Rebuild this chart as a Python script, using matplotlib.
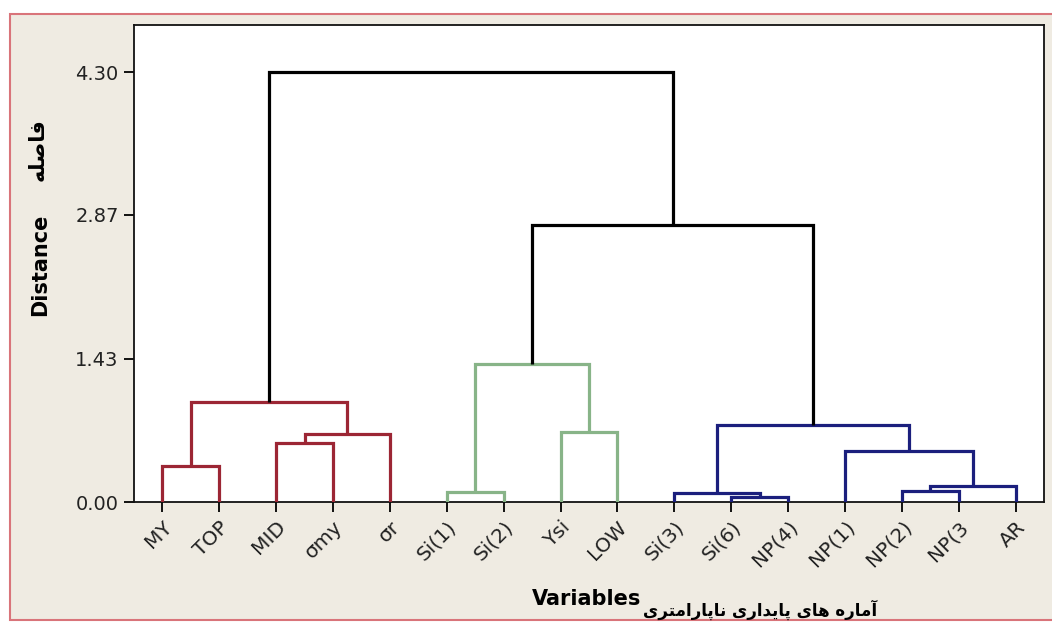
import matplotlib
matplotlib.use("Agg")
import matplotlib.pyplot as plt
from matplotlib.patches import Rectangle

# Leaves, in the order they appear along the axis
leaves = ["MY", "TOP", "MID", "σmy", "σr", "Si(1)", "Si(2)", "Ysi", "LOW",
          "Si(3)", "Si(6)", "NP(4)", "NP(1)", "NP(2)", "NP(3", "AR"]

# Merges: (left node, right node, distance). Leaves are nodes 0..15,
# each merge creates the next node id starting at 16.
merge_a = [10, 9, 5, 13, 19, 0, 12, 2, 23, 7, 17, 21, 18, 28, 27]
merge_b = [11, 16, 6, 14, 15, 1, 20, 3, 4, 8, 22, 24, 25, 26, 29]
merge_h = [0.05, 0.09, 0.10, 0.11, 0.16, 0.36, 0.51, 0.59, 0.68, 0.70,
           0.77, 1.00, 1.38, 2.77, 4.30]
merge_c = ["blue", "blue", "green", "blue", "blue", "red", "blue", "red",
           "red", "green", "blue", "red", "green", "black", "black"]

y_ticks = [0.00, 1.43, 2.87, 4.30]

colors = {"red": "#9c2634", "green": "#88b488", "blue": "#1b1f7d", "black": "#000000"}

# Persian letter forms: isolated, final, initial, medial
DUAL = {
    "ف": (0xFED1, 0xFED2, 0xFED3, 0xFED4),
    "ص": (0xFEB9, 0xFEBA, 0xFEBB, 0xFEBC),
    "ل": (0xFEDD, 0xFEDE, 0xFEDF, 0xFEE0),
    "ه": (0xFEE9, 0xFEEA, 0xFEEB, 0xFEEC),
    "م": (0xFEE1, 0xFEE2, 0xFEE3, 0xFEE4),
    "ی": (0xFBFC, 0xFBFD, 0xFBFE, 0xFBFF),
    "پ": (0xFB56, 0xFB57, 0xFB58, 0xFB59),
    "ن": (0xFEE5, 0xFEE6, 0xFEE7, 0xFEE8),
    "ت": (0xFE95, 0xFE96, 0xFE97, 0xFE98),
}
RIGHT = {
    "ا": (0xFE8D, 0xFE8E),
    "آ": (0xFE81, 0xFE82),
    "ر": (0xFEAD, 0xFEAE),
    "د": (0xFEA9, 0xFEAA),
}


def shape_fa(text):
    out = []
    for i, c in enumerate(text):
        if c not in DUAL and c not in RIGHT:
            out.append(c)
            continue
        prev = text[i - 1] if i > 0 else ""
        nxt = text[i + 1] if i + 1 < len(text) else ""
        jp = prev in DUAL
        jn = c in DUAL and (nxt in DUAL or nxt in RIGHT)
        forms = DUAL.get(c) or RIGHT[c]
        if jp and jn:
            f = forms[3]
        elif jp:
            f = forms[1]
        elif jn:
            f = forms[2]
        else:
            f = forms[0]
        out.append(chr(f))
    return "".join(reversed(out))


fig = plt.figure(figsize=(10.52, 6.23), dpi=100, facecolor="white")
W, H = 1052, 623
fig.patches.append(Rectangle((10 / W, 3 / H), 1.1, 606 / H, transform=fig.transFigure,
                             facecolor="#efebe2", edgecolor="#d9747a", linewidth=1.5,
                             zorder=-10))

ax = fig.add_axes([134 / W, 1 - 502 / H, (1044 - 134) / W, (502 - 25) / H])
ax.set_facecolor("white")

# node positions: leaves sit at 0..n-1, clusters at the middle of their children
xs = list(range(len(leaves)))
hs = [0.0] * len(leaves)
for a, b, h, c in zip(merge_a, merge_b, merge_h, merge_c):
    xa, xb = xs[a], xs[b]
    ax.plot([xa, xa, xb, xb], [hs[a], h, h, hs[b]], color=colors[c],
            lw=2.3, solid_joinstyle="miter", solid_capstyle="butt", zorder=3)
    xs.append((xa + xb) / 2)
    hs.append(h)

ax.set_xlim(-0.5, len(leaves) - 0.5)
ax.set_ylim(0, 4.77)
ax.set_xticks(range(len(leaves)))
ax.set_xticklabels(leaves, rotation=45, ha="right", va="top",
                   rotation_mode="anchor", fontsize=14.5, color="#222222")
ax.set_yticks(y_ticks)
ax.set_yticklabels([f"{v:.2f}" for v in y_ticks], fontsize=14, color="#222222")
ax.tick_params(direction="out", length=7, width=1.3, pad=4)
for s in ax.spines.values():
    s.set_linewidth(1.3)
    s.set_color("#111111")

fig.text(40 / W, 1 - 265 / H, "Distance", rotation=90, fontsize=15,
         fontweight="bold", ha="center", va="center")
fig.text(38 / W, 1 - 150 / H, shape_fa("فاصله"), rotation=90, fontsize=15,
         fontweight="bold", ha="center", va="center")
fig.text(587 / W, 1 - 599 / H, "Variables", fontsize=15, fontweight="bold",
         ha="center", va="center")
fig.text(760 / W, 1 - 610 / H, shape_fa("آماره های پایداری ناپارامتری"),
         fontsize=12, fontweight="bold", ha="center", va="center")

fig.savefig("out.png", dpi=100, facecolor=fig.get_facecolor())
